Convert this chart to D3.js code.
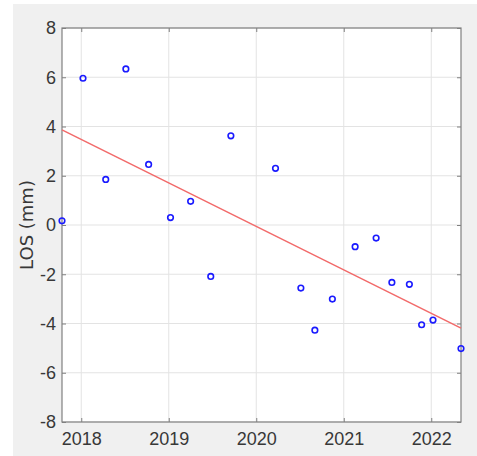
<!DOCTYPE html>
<html>
<head>
<meta charset="utf-8">
<script src="https://cdn.jsdelivr.net/npm/d3@7"></script>
<style>
  body { margin: 0; background: #fff; }
</style>
</head>
<body>
<div id="chart"></div>
<script>
// observation dates (decimal years) and LOS values (mm)
const obsYear = [2017.78, 2018.02, 2018.28, 2018.51, 2018.77, 2019.02, 2019.25, 2019.48, 2019.71,
    2020.22, 2020.51, 2020.67, 2020.87, 2021.13, 2021.37, 2021.55, 2021.75, 2021.89, 2022.02, 2022.34];
const losValue = [0.17, 5.96, 1.85, 6.34, 2.46, 0.30, 0.96, -2.09, 3.62,
    2.30, -2.56, -4.27, -3.01, -0.88, -0.53, -2.33, -2.41, -4.05, -3.86, -5.02];
// linear trend end points
const trendYear = [2017.78, 2022.34];
const trendValue = [3.86, -4.19];
const xTicks = [2018, 2019, 2020, 2021, 2022];
const yTicks = [-8, -6, -4, -2, 0, 2, 4, 6, 8];

var W = 477, H = 456;
var pLeft = 62, pRight = 461, pTop = 28, pBottom = 422;

const svg = d3.select('#chart').append('svg')
    .attr('width', W).attr('height', H);

svg.append('rect').attr('x', 13).attr('y', 4)
    .attr('width', W - 13).attr('height', H - 4).attr('fill', '#f0f0f0');
svg.append('rect').attr('x', pLeft).attr('y', pTop)
    .attr('width', pRight - pLeft).attr('height', pBottom - pTop).attr('fill', '#fff');

const x = d3.scaleLinear().domain([2017.78, 2022.34]).range([pLeft, pRight]);
const y = d3.scaleLinear().domain([-8, 8]).range([pBottom, pTop]);

// grid
svg.append('g').selectAll('line').data(xTicks).join('line')
    .attr('x1', d => x(d)).attr('x2', d => x(d))
    .attr('y1', pTop).attr('y2', pBottom)
    .attr('stroke', '#e3e3e3').attr('stroke-width', 1);
svg.append('g').selectAll('line').data(yTicks).join('line')
    .attr('x1', pLeft).attr('x2', pRight)
    .attr('y1', d => y(d)).attr('y2', d => y(d))
    .attr('stroke', '#e3e3e3').attr('stroke-width', 1);

function styleAxis(g) {
    g.select('.domain').remove();
    g.selectAll('.tick line').attr('stroke', '#808080');
    g.selectAll('.tick text').attr('fill', '#383838')
        .attr('font-family', 'Liberation Sans, Arial, sans-serif').attr('font-size', '18px');
}

svg.append('g').attr('transform', `translate(0,${pBottom})`)
    .call(d3.axisBottom(x).tickValues(xTicks).tickFormat(d => String(d)).tickSizeInner(-4).tickPadding(10))
    .call(styleAxis);
svg.append('g').attr('transform', `translate(0,${pTop})`)
    .call(d3.axisTop(x).tickValues(xTicks).tickFormat('').tickSizeInner(-4))
    .call(styleAxis);
svg.append('g').attr('transform', `translate(${pLeft},0)`)
    .call(d3.axisLeft(y).tickValues(yTicks).tickFormat(d => String(d)).tickSizeInner(-4).tickPadding(6))
    .call(styleAxis);
svg.append('g').attr('transform', `translate(${pRight},0)`)
    .call(d3.axisRight(y).tickValues(yTicks).tickFormat('').tickSizeInner(-4))
    .call(styleAxis);

// box
svg.append('rect').attr('x', pLeft).attr('y', pTop)
    .attr('width', pRight - pLeft).attr('height', pBottom - pTop)
    .attr('fill', 'none').attr('stroke', '#808080').attr('stroke-width', 1.2);

// trend line
svg.append('line')
    .attr('x1', x(trendYear[0])).attr('y1', y(trendValue[0]))
    .attr('x2', x(trendYear[1])).attr('y2', y(trendValue[1]))
    .attr('stroke', '#f26a6a').attr('stroke-width', 1.5);

// points
svg.append('g').selectAll('circle').data(obsYear).join('circle')
    .attr('cx', d => x(d)).attr('cy', (d, i) => y(losValue[i]))
    .attr('r', 2.8).attr('fill', 'none')
    .attr('stroke', '#1a1aff').attr('stroke-width', 1.6);

svg.append('text')
    .attr('transform', `translate(33,${(pTop + pBottom) / 2}) rotate(-90)`)
    .attr('text-anchor', 'middle')
    .attr('font-family', 'DejaVu Sans, sans-serif').attr('font-size', '18px')
    .attr('fill', '#383838')
    .text('LOS (mm)');
</script>
</body>
</html>
